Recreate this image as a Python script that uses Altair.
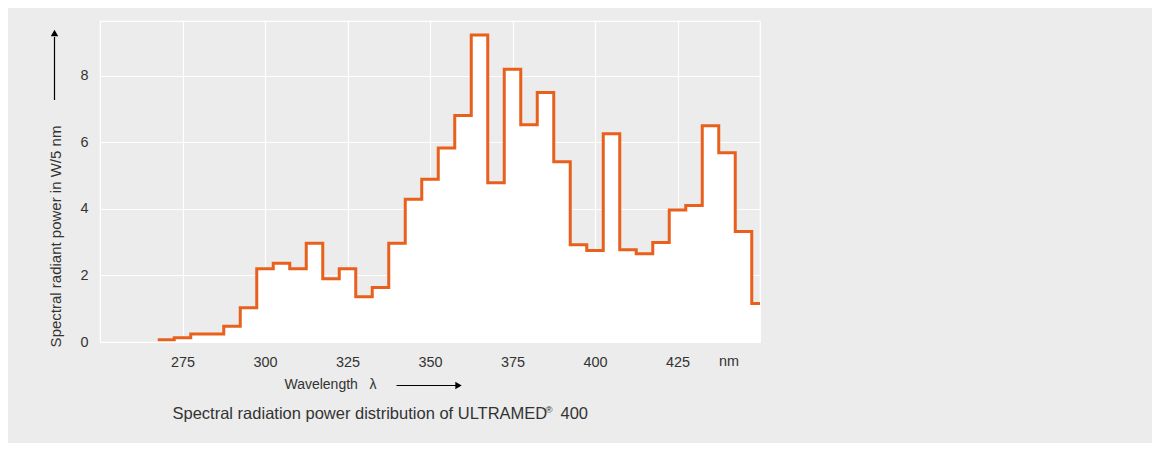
import altair as alt
import pandas as pd

# Bin centres (nm) and spectral radiant power (W/5 nm)
wavelength_nm = [270, 275, 280, 285, 290, 295, 300, 305, 310, 315, 320, 325, 330, 335,
                 340, 345, 350, 355, 360, 365, 370, 375, 380, 385, 390, 395, 400, 405,
                 410, 415, 420, 425, 430, 435, 440, 445, 450]
power = [0.07, 0.13, 0.24, 0.24, 0.47, 1.03, 2.2, 2.37, 2.2, 2.97, 1.9, 2.2, 1.36, 1.64,
         2.97, 4.29, 4.89, 5.83, 6.81, 9.23, 4.79, 8.2, 6.53, 7.5, 5.42, 2.92, 2.75, 6.26,
         2.77, 2.65, 2.99, 3.97, 4.1, 6.5, 5.69, 3.32, 1.16]
bin_width = 5
x_ticks = [275, 300, 325, 350, 375, 400, 425]
y_ticks = [0, 2, 4, 6, 8]

# step-after table: left edge of every bin, plus closing right edge of the last bin
edges = [w - bin_width / 2 for w in wavelength_nm] + [wavelength_nm[-1] + bin_width / 2]
vals = power + [power[-1]]
df = pd.DataFrame({"x": edges, "y": vals})

ORANGE = "#e8601c"
TEXT = "#333333"
FONT = "Liberation Sans"
BG = "#ebeceb"

xs = alt.Scale(domain=[250, 450], nice=False, zero=False)
ys = alt.Scale(domain=[0, 9.65], nice=False)

x_axis = alt.Axis(values=x_ticks, grid=True, gridColor="white", gridWidth=1.2,
                  domain=False, ticks=False, labelPadding=13, labelFontSize=14.4,
                  labelColor=TEXT, labelFont=FONT, title="Wavelength\u00a0\u00a0\u00a0λ",
                  titleFont=FONT, titleFontSize=14, titleFontWeight="normal",
                  titleColor=TEXT, titleX=230, titleY=42, titleAlign="center",
                  titleBaseline="middle")
y_axis = alt.Axis(values=y_ticks, grid=True, gridColor="white", gridWidth=1.2,
                  domain=False, ticks=False, labelPadding=12, labelFontSize=14.4,
                  labelColor=TEXT, labelFont=FONT,
                  title="Spectral radiant power in W/5 nm",
                  titleFont=FONT, titleFontSize=15, titleFontWeight="normal",
                  titleColor=TEXT, titleX=-45, titleY=215, titleAngle=270,
                  titleAlign="center", titleBaseline="middle")

area = alt.Chart(df).mark_area(interpolate="step-after", color="white", clip=True).encode(
    x=alt.X("x:Q", scale=xs, axis=x_axis),
    y=alt.Y("y:Q", scale=ys, axis=y_axis),
)
line = alt.Chart(df).mark_line(interpolate="step-after", color=ORANGE, strokeWidth=3,
                               clip=True, strokeJoin="miter").encode(
    x=alt.X("x:Q", scale=xs),
    y=alt.Y("y:Q", scale=ys),
)

one = pd.DataFrame({"a": [0]})
nm_label = alt.Chart(one).mark_text(text="nm", font=FONT, fontSize=14.4, color=TEXT,
                                    align="center", baseline="middle").encode(
    x=alt.value(629), y=alt.value(340.5))

# vertical arrow next to y title
v_line = alt.Chart(one).mark_rule(color="black", strokeWidth=1.2).encode(
    x=alt.value(-45.5), y=alt.value(16), y2=alt.value(79))
v_head = alt.Chart(one).mark_point(shape="triangle-up", filled=True, color="black",
                                   size=55, opacity=1).encode(
    x=alt.value(-45.5), y=alt.value(12))
# horizontal arrow next to x title
h_line = alt.Chart(one).mark_rule(color="black", strokeWidth=1.2).encode(
    x=alt.value(296.5), x2=alt.value(356), y=alt.value(364.5))
h_head = alt.Chart(one).mark_point(shape="triangle-right", filled=True, color="black",
                                   size=55, opacity=1).encode(
    x=alt.value(358.5), y=alt.value(364.5))

cap_main = alt.Chart(one).mark_text(
    text="Spectral radiation power distribution of ULTRAMED", font=FONT, fontSize=16.5,
    color=TEXT, align="left", baseline="middle").encode(x=alt.value(72.5), y=alt.value(393))
cap_reg = alt.Chart(one).mark_text(
    text="®", font=FONT, fontSize=9.5, color=TEXT, align="left",
    baseline="middle").encode(x=alt.value(445.5), y=alt.value(388.5))
cap_num = alt.Chart(one).mark_text(
    text="400", font=FONT, fontSize=16.5, color=TEXT, align="right",
    baseline="middle").encode(x=alt.value(488), y=alt.value(393))

chart = alt.layer(area, line, nm_label, v_line, v_head, h_line, h_head,
                  cap_main, cap_reg, cap_num).properties(
    width=660, height=321,
    autosize=alt.AutoSizeParams(type="none"),
    padding={"left": 92, "top": 13, "right": 392, "bottom": 101},
    background=BG,
).configure_view(stroke="white", strokeWidth=1.2, fill=None)

chart.save("out.html", embed_options={"renderer": "svg", "actions": False})
